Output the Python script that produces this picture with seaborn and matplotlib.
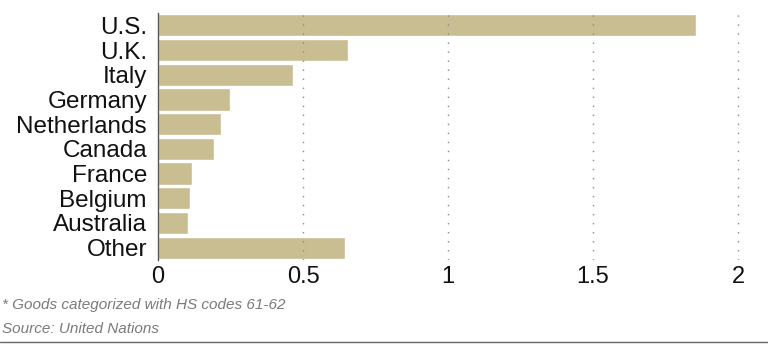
import numpy as np
import pandas as pd
import seaborn as sns
import matplotlib.pyplot as plt
from matplotlib.lines import Line2D

# ---------- data ----------
countries = ["U.S.", "U.K.", "Italy", "Germany", "Netherlands",
             "Canada", "France", "Belgium", "Australia", "Other"]
values = [1.855, 0.655, 0.466, 0.248, 0.217, 0.193, 0.117, 0.110, 0.103, 0.645]
xticks = [0, 0.5, 1, 1.5, 2]
xtick_labels = ["0", "0.5", "1", "1.5", "2"]

df = pd.DataFrame({"country": countries, "value": values})

# ---------- style ----------
sns.set_theme(style="white")
plt.rcParams["font.family"] = ["Liberation Sans", "DejaVu Sans"]
bar_color = "#c9bd92"

fig = plt.figure(figsize=(7.68, 3.54), dpi=100)
ax = fig.add_axes([158 / 768, 1 - 260 / 354, 610 / 768, 247 / 354])

sns.barplot(data=df, x="value", y="country", order=countries,
            color=bar_color, saturation=1, width=0.9, ax=ax, zorder=2)

ax.set_xlim(0, 610 / 290)
ax.set_ylim(len(countries) - 0.5, -0.5)
ax.set_xticks(xticks)
ax.set_xticklabels(xtick_labels)
ax.set_xlabel("")
ax.set_ylabel("")
ax.tick_params(axis="both", length=0, colors="#111111")
ax.tick_params(axis="y", pad=8, labelsize=17.5)
ax.tick_params(axis="x", pad=4, labelsize=17)

# dotted grid drawn over the bars
for x in xticks[1:]:
    ax.axvline(x, color="#8a8a8a", lw=1, ls=(0, (1, 5.5)), zorder=3)

for side in ["top", "right", "bottom"]:
    ax.spines[side].set_visible(False)
ax.spines["left"].set_color("#555555")
ax.spines["left"].set_linewidth(1)
ax.spines["left"].set_zorder(4)

# ---------- footnotes ----------
fig.text(2 / 768, 1 - 305 / 354, "* Goods categorized with HS codes 61-62",
         fontsize=11, style="italic", color="#7a7a7a", ha="left", va="center")
fig.text(2 / 768, 1 - 329 / 354, "Source: United Nations",
         fontsize=11, style="italic", color="#7a7a7a", ha="left", va="center")
fig.add_artist(Line2D([0, 1], [1 - 342 / 354] * 2, transform=fig.transFigure,
                      color="#666666", lw=1))

fig.savefig("out.png", dpi=100)
